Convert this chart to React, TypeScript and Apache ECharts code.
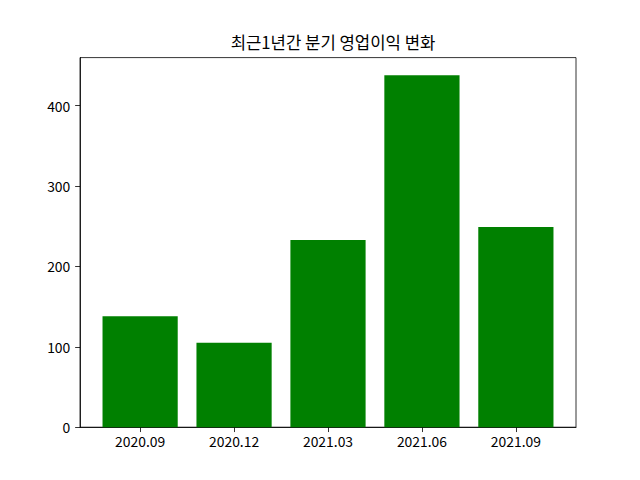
import React, { useEffect, useRef } from "react";
import * as echarts from "echarts";

const categories = ["2020.09", "2020.12", "2021.03", "2021.06", "2021.09"];
const values = [138, 105, 233, 438, 249];
const yTicks = [0, 100, 200, 300, 400];
const titleText = "최근1년간 분기 영업이익 변화";

export default function App() {
  const ref = useRef<HTMLDivElement>(null);
  useEffect(() => {
    if (!ref.current) return;
    const chart = echarts.init(ref.current, null, { renderer: "svg" });
    const font = "'Noto Sans CJK KR', 'Noto Sans', sans-serif";
    const xIdx = categories.map((_, i) => i);
    chart.setOption({
      animation: false,
      title: {
        text: titleText,
        left: 328,
        textAlign: "center",
        top: 29,
        textStyle: { fontFamily: font, fontSize: 16.7, fontWeight: "normal", color: "#000" },
      },
      grid: {
        left: 80,
        right: 64,
        top: 57.6,
        bottom: 52.8,
        show: true,
        borderColor: "#000",
        borderWidth: 0.8,
        backgroundColor: "#fff",
      },
      xAxis: {
        type: "value",
        min: -0.64,
        max: 4.64,
        splitLine: { show: false },
        axisLine: { show: true, onZero: false, lineStyle: { color: "#000", width: 0.8 } },
        axisTick: {
          show: true,
          length: 4.86,
          lineStyle: { color: "#000", width: 0.8 },
          customValues: xIdx,
        },
        axisLabel: {
          customValues: xIdx,
          margin: 7,
          color: "#000",
          fontFamily: font,
          fontSize: 13.9,
          formatter: (v: number) => categories[Math.round(v)] ?? "",
        },
      },
      yAxis: {
        type: "value",
        min: 0,
        max: 438 * 1.05,
        splitLine: { show: false },
        axisLine: { show: true, onZero: false, lineStyle: { color: "#000", width: 0.8 } },
        axisTick: {
          show: true,
          length: 4.86,
          lineStyle: { color: "#000", width: 0.8 },
          customValues: yTicks,
        },
        axisLabel: {
          customValues: yTicks,
          margin: 9.7,
          color: "#000",
          fontFamily: font,
          fontSize: 13.9,
        },
      },
      series: [
        {
          type: "bar",
          data: values.map((v, i) => [i, v]),
          barWidth: 75.2,
          itemStyle: { color: "#008000" },
        },
      ],
    });
    return () => chart.dispose();
  }, []);
  return (
    <div
      ref={ref}
      style={{ position: "fixed", left: 0, top: 0, width: 640, height: 480, background: "#fff" }}
    />
  );
}
